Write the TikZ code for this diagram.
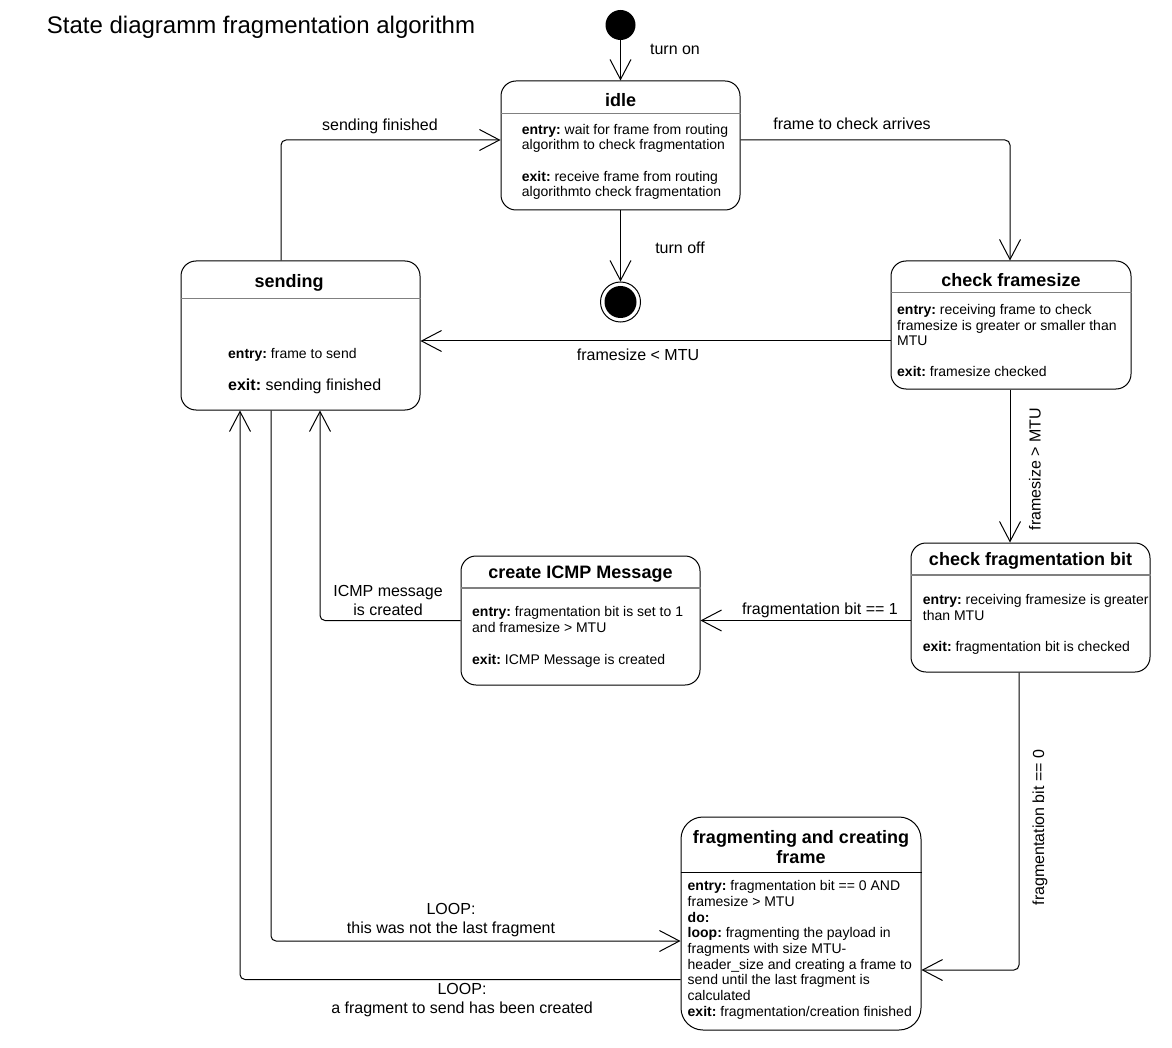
\documentclass[tikz,border=0pt]{standalone}
\usepackage{fontspec}
\setmainfont{Liberation Sans}
\usetikzlibrary{arrows.meta}
\definecolor{sepgray}{RGB}{128,128,128}
\frenchspacing
\tikzset{
  statebox/.style={draw, line width=1pt, rounded corners=15pt, inner sep=0pt},
  arr/.style={-{Straight Barb[length=20pt,width=21pt]}, line width=1pt},
  rc/.style={rounded corners=5pt},
  ttl/.style={font=\fontsize{18}{20}\selectfont\bfseries, anchor=base, inner sep=0pt, align=center},
  body/.style={font=\fontsize{14}{15.7}\selectfont, align=left, anchor=base west, inner sep=0pt},
  lbl/.style={font=\fontsize{16}{19}\selectfont, inner sep=0pt, align=center},
  sepline/.style={draw=sepgray, line width=1.5pt},
}
\begin{document}
\frenchspacing
\begin{tikzpicture}[x=1pt,y=-1pt]
\useasboundingbox (0,0) rectangle (1172,1048);

% title
\node[font=\fontsize{24}{28}\selectfont, anchor=base west, inner sep=0pt] (title) at (46.7,33.3) {State diagramm fragmentation algorithm};

% pseudo states
\node[circle, fill=black, minimum size=30pt, inner sep=0pt] (init) at (620.5,25) {};
\node[circle, draw, line width=1pt, minimum size=40pt, inner sep=0pt,
      path picture={\fill (path picture bounding box.center) circle (16pt);}] (final) at (620.5,302) {};

% states
\node[statebox, minimum width=239pt, minimum height=129pt] (idle) at (620.5,145.5) {};
\node[statebox, minimum width=239pt, minimum height=149pt] (sending) at (300.5,335.5) {};
\node[statebox, minimum width=240pt, minimum height=128pt] (checkfs) at (1011,325) {};
\node[statebox, minimum width=239pt, minimum height=129pt] (checkfb) at (1030.5,607.5) {};
\node[statebox, minimum width=239pt, minimum height=129pt] (icmp) at (580.5,620.5) {};
\node[statebox, rounded corners=22pt, minimum width=240pt, minimum height=213pt] (frag) at (801,923.5) {};

% separators
\draw[sepline] (idle.west |- 0,113.3) -- (idle.east |- 0,113.3);
\draw[sepline] (sending.west |- 0,298.5) -- (sending.east |- 0,298.5);
\draw[sepline] (checkfs.west |- 0,292.7) -- (checkfs.east |- 0,292.7);
\draw[sepline] (checkfb.west |- 0,575) -- (checkfb.east |- 0,575);
\draw[sepline] (icmp.west |- 0,588) -- (icmp.east |- 0,588);
\draw[line width=1pt] (frag.west |- 0,872.3) -- (frag.east |- 0,872.3);

% titles
\node[ttl] (idleT) at (620.5,106.7) {idle};
\node[ttl] (sendingT) at (289,287.5) {sending};
\node[ttl] (checkfsT) at (1011,286.7) {check framesize};
\node[ttl] (checkfbT) at (1030.5,565.5) {check fragmentation bit};
\node[ttl] (icmpT) at (580.5,578) {create ICMP Message};
\node[ttl] (fragT) at (801,863) {fragmenting and creating\\frame};

% bodies (anchor base = baseline of last line)
\node[body, font=\fontsize{14}{15}\selectfont] (idleE) at (521.7,150) {\textbf{entry:} wait for frame from routing\\algorithm to check fragmentation};
\node[body, font=\fontsize{14}{15}\selectfont] (idleX) at (521.7,197) {\textbf{exit:} receive frame from routing\\algorithmto check fragmentation};

\node[body] (sendingE) at (228,359) {\textbf{entry:} frame to send};
\node[body, font=\fontsize{16}{18}\selectfont] (sendingX) at (228,390) {\textbf{exit:} sending finished};

\node[body] (checkfsE) at (897,345.7) {\textbf{entry:} receiving frame to check\\framesize is greater or smaller than\\MTU};
\node[body] (checkfsX) at (897,376.7) {\textbf{exit:} framesize checked};

\node[body] (checkfbE) at (922.7,620.5) {\textbf{entry:} receiving framesize is greater\\than MTU};
\node[body] (checkfbX) at (922.7,651.5) {\textbf{exit:} fragmentation bit is checked};

\node[body] (icmpE) at (472,632) {\textbf{entry:} fragmentation bit is set to 1\\and framesize > MTU};
\node[body] (icmpX) at (472,664) {\textbf{exit:} ICMP Message is created};

\node[body, font=\fontsize{14}{15.66}\selectfont] (fragB) at (687.5,1016) {\textbf{entry:} fragmentation bit == 0 AND\\framesize > MTU\\\textbf{do:}\\\textbf{loop:} fragmenting the payload in\\fragments with size MTU-\\header\_size and creating a frame to\\send until the last fragment is\\calculated\\\textbf{exit:} fragmentation/creation finished};

% connectors
\draw[arr] (init) -- (idle);
\draw[arr] (idle) -- (final);
\draw[arr,rc] ([xshift=-19.5pt]sending.north) |- ([yshift=5.5pt]idle.west);
\draw[arr,rc] ([yshift=5.5pt]idle.east) -| ([xshift=-1pt]checkfs.north);
\draw[arr] ([yshift=-16pt]checkfs.west) -- ([yshift=-16pt]checkfs.west -| sending.east);
\draw[arr] ([xshift=-1pt]checkfs.south) -- ([xshift=-1pt]checkfs.south |- checkfb.north);
\draw[arr] (checkfb.west |- icmp.east) -- (icmp.east);
\draw[arr,rc] (icmp.west) -| ([xshift=19.5pt]sending.south);
\draw[arr,rc] ([xshift=-11.5pt]checkfb.south) |- ([yshift=-46.5pt]frag.east);
\draw[arr,rc] ([xshift=-29.5pt]sending.south) |- ([yshift=-17.5pt]frag.west);
\draw[arr,rc] ([yshift=-56pt]frag.west) -| ([xshift=-60.5pt]sending.south);

% labels
\node[lbl, anchor=base] (lTurnOn) at (675,54.3) {turn on};
\node[lbl, anchor=base] (lTurnOff) at (680,253.3) {turn off};
\node[lbl, anchor=base] (lSent) at (380,131) {sending finished};
\node[lbl, anchor=base] (lArr) at (852,130) {frame to check arrives};
\node[lbl, anchor=base] (lSmall) at (638,360.5) {framesize < MTU};
\node[lbl, anchor=base] (lBit1) at (820,614) {fragmentation bit == 1};
\node[lbl] (lIcmp) at (388,600) {ICMP message\\is created};
\node[lbl, rotate=90] (lBig) at (1035,469) {framesize > MTU};
\node[lbl, rotate=90] (lBit0) at (1040,827.5) {fragmentation bit == 0};
\node[lbl] (lLoop1) at (451,920) {LOOP:\\this was not the last fragment};
\node[lbl] (lLoop2) at (462,1000) {LOOP:\\a fragment to send has been created};
\end{tikzpicture}
\end{document}
